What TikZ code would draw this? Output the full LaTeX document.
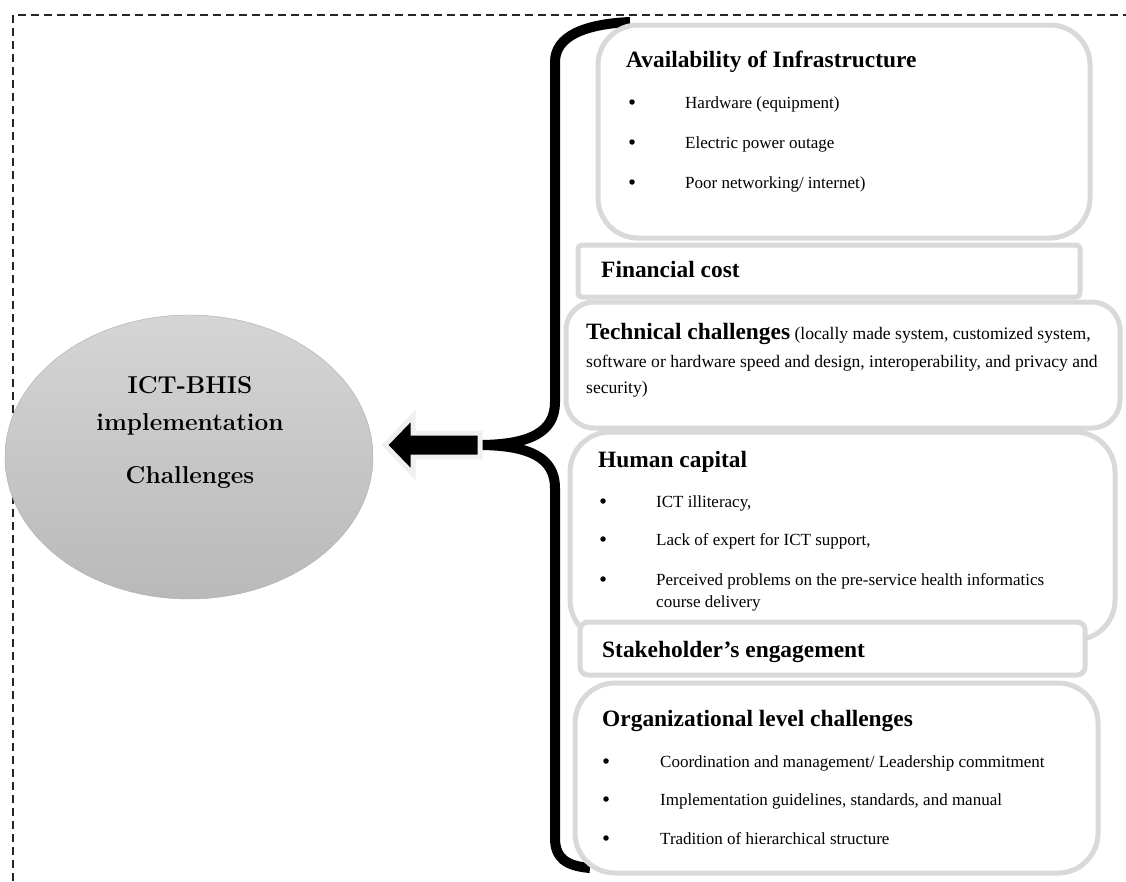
\documentclass[tikz,border=0pt]{standalone}
\usepackage{fontspec}
\newfontfamily\tnr{Liberation Serif}
\usetikzlibrary{shadows}
\tikzset{
  box/.style={draw=gray!30, line width=5pt, fill=white,
    drop shadow={shadow xshift=1.5pt, shadow yshift=-1.5pt, opacity=0.25}},
  head/.style={font=\tnr\bfseries\fontsize{23.4}{27}\selectfont, anchor=base west, inner sep=0pt},
  item/.style={font=\tnr\fontsize{17}{20}\selectfont, anchor=base west, inner sep=0pt},
  tech/.style={font=\tnr\fontsize{17.6}{20}\selectfont, anchor=base west, inner sep=0pt},
  dot/.style={circle, fill=black, inner sep=0pt, minimum size=5.5pt},
  core/.style={font=\bfseries\fontsize{24.4}{28}\selectfont, anchor=base, inner sep=0pt}
}
\begin{document}
\begin{tikzpicture}[x=1pt,y=-1pt]
  \useasboundingbox (0,0) rectangle (1126,881);
  \draw [line width=1.6pt, dash pattern=on 8pt off 5pt, black!85] (13,881) -- (13,15) -- (1126,15);

  % the challenge ellipse
  \shade [top color=gray!33, bottom color=gray!55, draw=gray!65, thin] (189,457) ellipse (184 and 142);
  \node (c1) [core] at (190,393) {ICT-BHIS};
  \node (c2) [core] at (190,430) {implementation};
  \node (c3) [core] at (190,483) {Challenges};

  % brace and arrow
  \coordinate (tail) at (478,445);
  \draw [line width=10pt] (630,22) .. controls (585,24) and (555,36) .. (555,62) -- (555,402)
    .. controls (555,432) and (530,445) .. (tail)
    .. controls (530,445) and (555,458) .. (555,488) -- (555,838)
    .. controls (555,858) and (566,866) .. (590,868);
  \draw [fill=black, draw=gray!12, line width=5pt, line join=miter] (480,433) -- (413,433) -- (413,416)
    -- (385,445) -- (413,474) -- (413,457) -- (480,457) -- cycle;

  % boxes
  \draw [box, rounded corners=40pt] (598,25) rectangle (1090,238);
  \draw [box, rounded corners=4pt] (578,245) rectangle (1080,297);
  \draw [box, rounded corners=28pt] (566,302) rectangle (1120,428);
  \draw [box, rounded corners=40pt] (570,432) rectangle (1115,640);
  \draw [box, rounded corners=8pt] (580,622) rectangle (1085,675);
  \draw [box, rounded corners=40pt] (575,683) rectangle (1098,873);

  % availability of infrastructure
  \node (infra) [head] at (626,67) {Availability of Infrastructure};
  \foreach \y/\t [count=\i] in {108/{Hardware (equipment)}, 148/{Electric power outage},
    188/{Poor networking/ internet)}} {
    \node (ib\i) [dot] at (632,\y-6) {};
    \node (it\i) [item] at (685,\y) {\t};
  }

  \node (fin) [head] at (601,277) {Financial cost};

  % technical
  \node (tc1) [tech] at (586,339)
    {{\bfseries\fontsize{23.4}{27}\selectfont Technical challenges} (locally made system, customized system,};
  \node (tc2) [tech] at (586,367) {software or hardware speed and design, interoperability, and privacy and};
  \node (tc3) [tech] at (586,393) {security)};

  % human capital
  \node (hum) [head] at (598,467) {Human capital};
  \foreach \y/\t [count=\i] in {507/{ICT illiteracy,}, 545/{Lack of expert for ICT support,},
    585/{Perceived problems on the pre-service health informatics}} {
    \node (hb\i) [dot] at (603,\y-6) {};
    \node (ht\i) [item] at (656,\y) {\t};
  }
  \node (ht4) [item] at (656,607) {course delivery};

  \node (stake) [head] at (602,657) {Stakeholder’s engagement};

  % organizational level
  \node (org) [head] at (602,726) {Organizational level challenges};
  \foreach \y/\t [count=\i] in {767/{Coordination and management/ Leadership commitment},
    805/{Implementation guidelines, standards, and manual}, 844/{Tradition of hierarchical structure}} {
    \node (ob\i) [dot] at (606,\y-6) {};
    \node (ot\i) [item] at (660,\y) {\t};
  }
\end{tikzpicture}
\end{document}
